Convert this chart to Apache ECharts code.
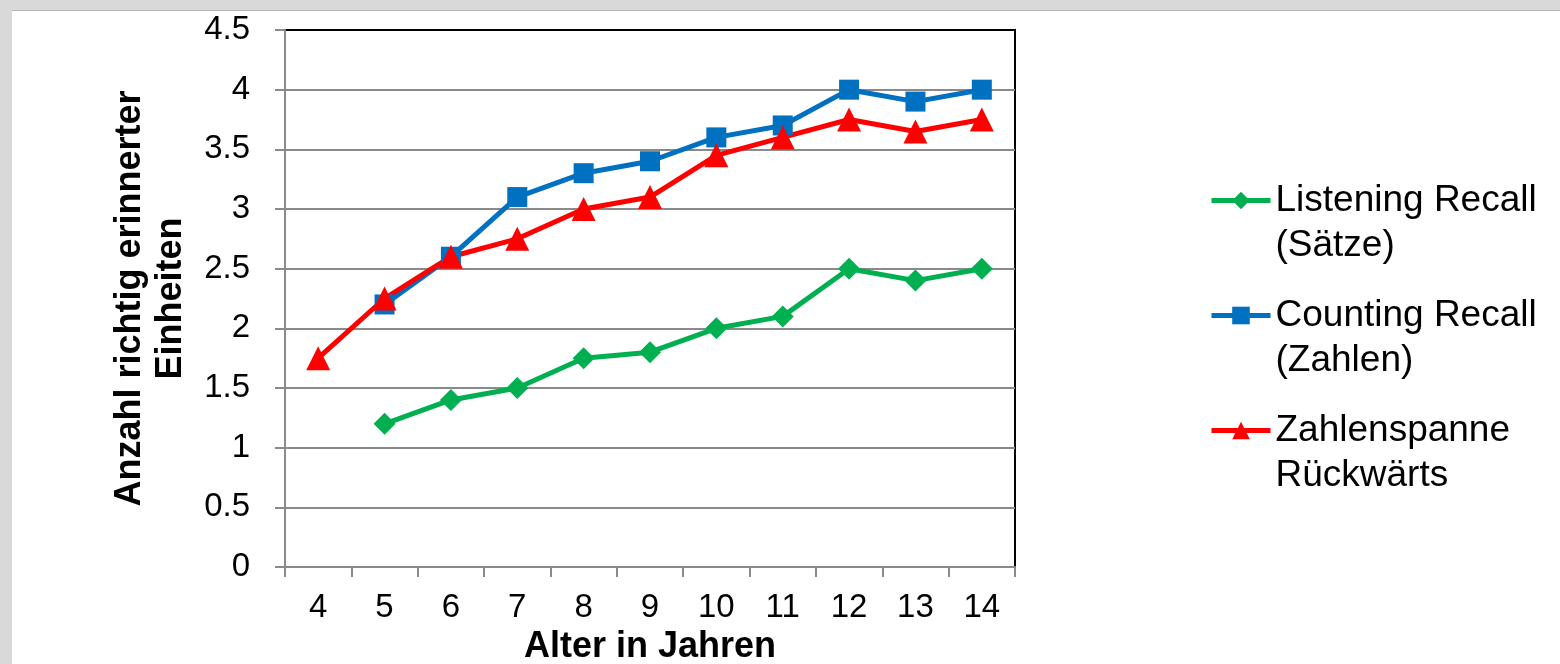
<!DOCTYPE html>
<html>
<head>
<meta charset="utf-8">
<script src="https://cdn.jsdelivr.net/npm/echarts@6/dist/echarts.min.js"></script>
<style>
  html, body { margin: 0; padding: 0; background: #d9d9d9; }
  .panel {
    position: absolute; left: 12px; top: 10px; right: 0; bottom: 0;
    background: #fff; border-top: 1px solid #b4b4b4;
  }
  #chart { position: absolute; left: 0; top: 0; width: 1560px; height: 664px; }
</style>
</head>
<body>
<div class="panel"></div>
<div id="chart"></div>
<script>
const ages = ['4', '5', '6', '7', '8', '9', '10', '11', '12', '13', '14']
const listening = [null, 1.2, 1.4, 1.5, 1.75, 1.8, 2.0, 2.1, 2.5, 2.4, 2.5]
const counting = [null, 2.2, 2.6, 3.1, 3.3, 3.4, 3.6, 3.7, 4.0, 3.9, 4.0]
const spanBack = [1.75, 2.25, 2.6, 2.75, 3.0, 3.1, 3.45, 3.6, 3.75, 3.65, 3.75]
const names = ['Listening Recall\n(Sätze)', 'Counting Recall\n(Zahlen)', 'Zahlenspanne\nRückwärts']

const font = 'Liberation Sans, Arial, sans-serif'
const gray = '#8a8a8a'

function line (name, data, color, symbol, size) {
  return {
    name: name,
    type: 'line',
    data: data,
    symbol: symbol,
    symbolSize: size,
    connectNulls: false,
    itemStyle: { color: color },
    lineStyle: { color: color, width: 5 },
    emphasis: { disabled: true }
  }
}

const chart = echarts.init(document.getElementById('chart'))
chart.setOption({
  animation: false,
  backgroundColor: 'transparent',
  textStyle: { fontFamily: font },
  grid: {
    left: 285, right: 545, top: 30, bottom: 97,
    outerBoundsMode: 'none',
    show: true, borderColor: '#000', borderWidth: 2, backgroundColor: 'transparent'
  },
  legend: {
    orient: 'vertical',
    left: 1209,
    top: 133,
    padding: 0,
    itemGap: -20,
    itemWidth: 59,
    itemHeight: 22,
    selectedMode: false,
    lineStyle: { width: 5 },
    // blank first line so the icon sits on the first text line
    formatter: name => ' \n' + name,
    textStyle: { fontSize: 37, color: '#000', lineHeight: 45, fontFamily: font }
  },
  xAxis: {
    type: 'category',
    data: ages,
    boundaryGap: true,
    name: 'Alter in Jahren',
    nameLocation: 'middle',
    nameGap: 59,
    nameTextStyle: { fontSize: 36, fontWeight: 'bold', color: '#000' },
    axisLine: { lineStyle: { color: gray, width: 2 } },
    axisTick: { show: true, length: 10, lineStyle: { color: gray, width: 2 } },
    axisLabel: { fontSize: 33, color: '#000', margin: 24 },
    splitLine: { show: false }
  },
  yAxis: {
    type: 'value',
    min: 0,
    max: 4.5,
    interval: 0.5,
    name: 'Anzahl richtig erinnerter\nEinheiten',
    nameLocation: 'middle',
    nameGap: 93,
    nameRotate: 90,
    nameTextStyle: { fontSize: 36, fontWeight: 'bold', color: '#000', lineHeight: 41 },
    axisLine: { show: true, lineStyle: { color: gray, width: 2 } },
    axisTick: { show: true, length: 10, lineStyle: { color: gray, width: 2 } },
    axisLabel: { fontSize: 33, color: '#000', margin: 35 },
    splitLine: { showMaxLine: false, lineStyle: { color: gray, width: 2 } }
  },
  series: [
    line(names[0], listening, '#00b050', 'diamond', 22),
    line(names[1], counting, '#0070c0', 'rect', 20),
    line(names[2], spanBack, '#ff0000', 'triangle', 24)
  ]
})
</script>
</body>
</html>
